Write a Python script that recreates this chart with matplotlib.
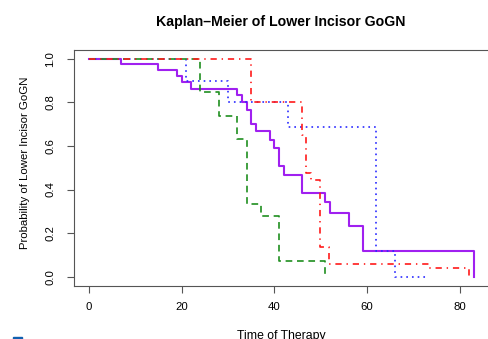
import matplotlib
matplotlib.use("Agg")
import matplotlib.pyplot as plt
from matplotlib.patches import Rectangle

plt.rcParams['font.family'] = ['Liberation Sans', 'DejaVu Sans']
plt.rcParams['lines.scale_dashes'] = False

# Kaplan-Meier step curves (time, survival after the step)
purple_t = [0, 7, 15, 19, 20, 22, 32, 33, 34, 35, 36, 39, 40, 41, 42, 46, 51, 52, 56, 59, 83]
purple_s = [1, 0.974, 0.946, 0.920, 0.893, 0.862, 0.833, 0.800, 0.766, 0.699, 0.668,
            0.627, 0.589, 0.509, 0.469, 0.384, 0.341, 0.294, 0.235, 0.116, 0.0]

blue_t = [0, 21, 30, 43, 62, 66, 73]
blue_s = [1, 0.899, 0.800, 0.685, 0.116, 0.0, 0.0]

green_t = [0, 24, 28, 32, 34, 37, 41, 51]
green_s = [1, 0.846, 0.737, 0.633, 0.332, 0.280, 0.072, 0.0]

red_t = [0, 35, 46, 46.7, 47.8, 49.8, 51.8, 73.4, 82]
red_s = [1, 0.80, 0.648, 0.474, 0.444, 0.135, 0.060, 0.038, 0.0]

x_ticks = [0, 20, 40, 60, 80]
y_ticks = [0.0, 0.2, 0.4, 0.6, 0.8, 1.0]

W, H = 488, 339
fig = plt.figure(figsize=(W / 100, H / 100), dpi=100)
l, r, b, t = 73.5, 489.3, 285.5, 50.0
ax = fig.add_axes([l / W, 1 - b / H, (r - l) / W, (b - t) / H])

ax.step(purple_t, purple_s, where='post', color='#a020f0', lw=1.5, zorder=2)
ax.step(blue_t, blue_s, where='post', color='#2a2aff', lw=1.2,
        dashes=(1.2, 2.9), zorder=3)
ax.step(green_t, green_s, where='post', color='#1f8f1f', lw=1.2,
        dashes=(4.8, 3.4), zorder=3)
ax.step(red_t, red_s, where='post', color='#ff1a1a', lw=1.2,
        dashes=(4.5, 3.5, 1.0, 3.5), zorder=4)

ax.set_xlim(-3.32, 86.32)
ax.set_ylim(-0.04, 1.04)
ax.set_xticks(x_ticks)
ax.set_xticklabels([str(v) for v in x_ticks])
ax.set_yticks(y_ticks)
ax.set_yticklabels([f"{v:.1f}" for v in y_ticks], rotation=90, va='center')
ax.tick_params(direction='out', length=5, width=0.8, color='#555555',
               labelsize=8.2)
ax.tick_params(axis='x', pad=7)
ax.tick_params(axis='y', pad=8)
for s in ax.spines.values():
    s.set_color('#555555')
    s.set_linewidth(0.8)

fig.text(281 / W, 1 - 22 / H, "Kaplan\u2013Meier of Lower Incisor GoGN",
         ha='center', va='center', fontsize=10.2, fontweight='bold')
fig.text(281 / W, 1 - 336.5 / H, "Time of Therapy", ha='center', va='center', fontsize=8.8)
fig.text(25 / W, 1 - 163 / H, "Probability of Lower Incisor GoGN", ha='center',
         va='center', rotation=90, fontsize=8.2)

fig.patches.append(Rectangle((13 / W, 0), 9 / W, 2.5 / H, transform=fig.transFigure,
                             color='#1060b0', zorder=5))

fig.savefig("out.png", dpi=100)
